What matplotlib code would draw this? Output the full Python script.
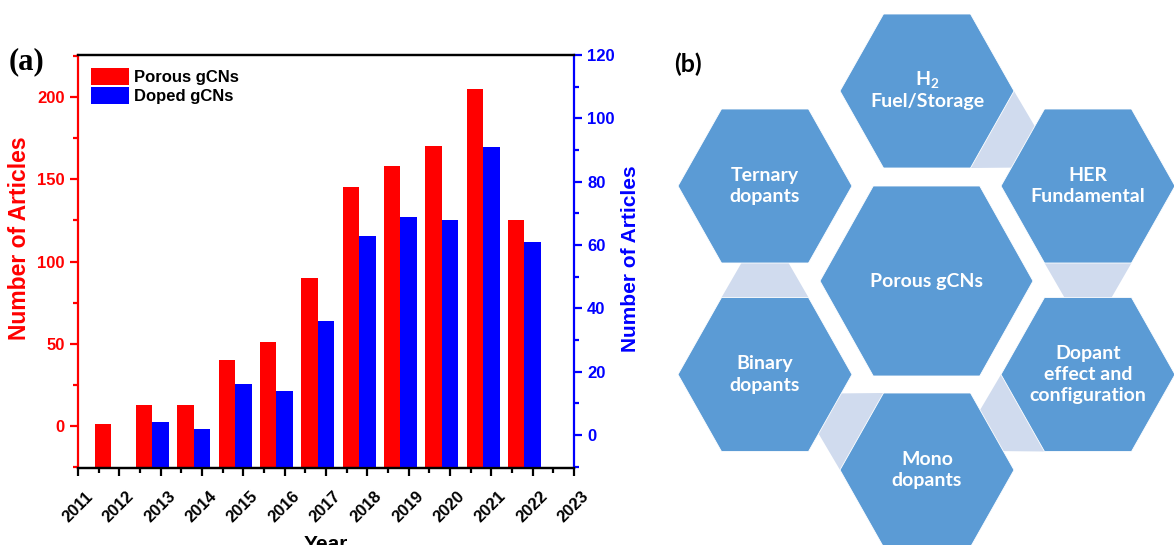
import numpy as np
import matplotlib.pyplot as plt
import matplotlib.transforms as mtransforms
from matplotlib.patches import Polygon

plt.rcParams['font.family'] = 'Liberation Sans'
plt.rcParams['font.weight'] = 'bold'
plt.rcParams['axes.labelweight'] = 'bold'
plt.rcParams['mathtext.fontset'] = 'custom'
plt.rcParams['mathtext.rm'] = 'Lato:bold'
plt.rcParams['mathtext.default'] = 'rm'

# article counts per year
porous_years = [2012, 2013, 2014, 2015, 2016, 2017, 2018, 2019, 2020, 2021, 2022]
porous_counts = [1, 13, 13, 40, 51, 90, 145, 158, 170, 205, 125]
doped_years = [2013, 2014, 2015, 2016, 2017, 2018, 2019, 2020, 2021, 2022]
doped_counts = [4, 2, 16, 14, 36, 63, 69, 68, 91, 61]
year_ticks = list(range(2011, 2024))

# hexagon diagram: label, centre (px), half width, half height
hex_labels = ['H$_2$', 'Ternary\ndopants', 'HER\nFundamental', 'Porous gCNs',
              'Binary\ndopants', 'Dopant\neffect and\nconfiguration', 'Mono\ndopants']
hex_centres = [(927, 91), (765, 186), (1088, 186), (926.5, 281),
               (765, 374.5), (1088, 374.5), (927, 470)]
hex_sizes = [(87, 77), (87, 77), (87, 77), (106.5, 95),
             (87, 77), (87, 77), (87, 77)]
# connector triangles: (hexagon index, edge start vertex, edge end vertex)
connectors = [(0, 3, 4), (2, 4, 5), (5, 5, 0), (6, 0, 1), (4, 1, 2)]

W, H = 1174, 545
fig = plt.figure(figsize=(W / 100, H / 100), dpi=100)

# ---- (a) bar chart ----
ax = fig.add_axes([78 / W, 1 - 468 / H, (574 - 78) / W, (468 - 55) / H])
ax2 = ax.twinx()
red, blue = '#ff0000', '#0000ff'
lo1, hi1 = -25.5, 225.5
lo2, hi2 = -10.4, 120
bw = 0.4
ax.bar(np.array(porous_years) - bw, np.array(porous_counts) - lo1, bottom=lo1,
       width=bw, color=red, label='Porous gCNs')
ax2.bar(np.array(doped_years), np.array(doped_counts) - lo2, bottom=lo2,
        width=bw, color=blue, label='Doped gCNs')
ax.set_ylim(lo1, hi1)
ax2.set_ylim(lo2, hi2)
ax.set_xlim(2011, 2023)

ax.set_yticks(range(0, 201, 50))
ax.set_yticks(range(-25, 226, 25), minor=True)
ax2.set_yticks(range(0, 121, 20))
ax2.set_yticks(range(-10, 121, 10), minor=True)
ax.set_xticks(year_ticks)
ax.set_xticks(np.arange(2011.5, 2023, 1), minor=True)
ax.set_xticklabels(year_ticks, rotation=45, ha='right', rotation_mode='anchor')

for a in (ax, ax2):
    for s in a.spines.values():
        s.set_linewidth(1.6)
ax.spines['left'].set_color(red)
ax.spines['right'].set_visible(False)
ax2.spines['left'].set_visible(False)
ax2.spines['right'].set_color(blue)

ax.tick_params(axis='y', which='major', colors=red, length=6, width=1.6, labelsize=12)
ax.tick_params(axis='y', which='minor', colors=red, length=3.5, width=1.6)
ax.tick_params(axis='x', which='major', length=6, width=1.6, labelsize=12, pad=9)
ax.tick_params(axis='x', which='minor', length=3.5, width=1.6)
ax2.tick_params(axis='y', which='major', colors=blue, length=6, width=1.6, labelsize=12)
ax2.tick_params(axis='y', which='minor', colors=blue, length=3.5, width=1.6)

# nudge the rotated year labels a little to the right
shift = mtransforms.ScaledTranslation(7 / 100, 0, fig.dpi_scale_trans)
for lab in ax.xaxis.get_majorticklabels():
    lab.set_transform(lab.get_transform() + shift)

ax.set_ylabel('Number of Articles', color=red, fontsize=16.5, va='center')
ax.yaxis.set_label_coords(-0.117, 0.557)
ax2.set_ylabel('Number of Articles', color=blue, fontsize=15, va='center', rotation=90)
ax2.yaxis.set_label_coords(1.113, 0.507)
ax.set_xlabel('Year', fontsize=15, va='top')
ax.xaxis.set_label_coords(0.5, (468 - 535) / 413)

h1, l1 = ax.get_legend_handles_labels()
h2, l2 = ax2.get_legend_handles_labels()
ax2.legend(h1 + h2, l1 + l2, loc='upper left', frameon=False, fontsize=12,
           handlelength=2.3, handleheight=1.2, handletextpad=0.3,
           labelspacing=0.15, borderaxespad=0.35, borderpad=0.4)

fig.text(9 / W, 1 - 62 / H, '(a)', family='Liberation Serif', fontsize=22,
         fontweight='bold', va='center', ha='left')

# ---- (b) hexagon diagram ----
hx = fig.add_axes([0, 0, 1, 1], zorder=-1)
hx.set_xlim(0, W)
hx.set_ylim(H, 0)
hx.axis('off')


def hex_vertices(cx, cy, rx, ry):
    return np.array([(cx - rx, cy), (cx - rx / 2, cy - ry), (cx + rx / 2, cy - ry),
                     (cx + rx, cy), (cx + rx / 2, cy + ry), (cx - rx / 2, cy + ry)])


verts = [hex_vertices(c[0], c[1], s[0], s[1]) for c, s in zip(hex_centres, hex_sizes)]

for i, a_, b_ in connectors:
    p, q = verts[i][a_], verts[i][b_]
    mid = (p + q) / 2
    d = q - p
    n = np.array([d[1], -d[0]]) / np.hypot(*d)
    if np.dot(n, mid - np.array(hex_centres[i])) < 0:
        n = -n
    r = mid + n * np.hypot(*d) * np.sqrt(3) / 2
    hx.add_patch(Polygon([p, q, r], closed=True, facecolor='#d0dbee',
                         edgecolor='none', zorder=1))

for v in verts:
    hx.add_patch(Polygon(v, closed=True, facecolor='#5b9bd5', edgecolor='white',
                         linewidth=0.6, zorder=2))

for (cx, cy), lab in zip(hex_centres, hex_labels):
    if lab.startswith('H$'):
        hx.text(cx, cy - 11, lab, color='white', family='Lato', fontweight='bold',
                fontsize=14, ha='center', va='center', zorder=3)
        hx.text(cx, cy + 11, 'Fuel/Storage', color='white', family='Lato',
                fontweight='bold', fontsize=14, ha='center', va='center', zorder=3)
    else:
        hx.text(cx, cy, lab, color='white', family='Lato', fontweight='bold',
                fontsize=14, ha='center', va='center', linespacing=1.3, zorder=3)

hx.text(674, 64, '(b)', family='Lato', fontweight='bold', fontsize=18,
        ha='left', va='center')

fig.savefig('out.png', dpi=100)
